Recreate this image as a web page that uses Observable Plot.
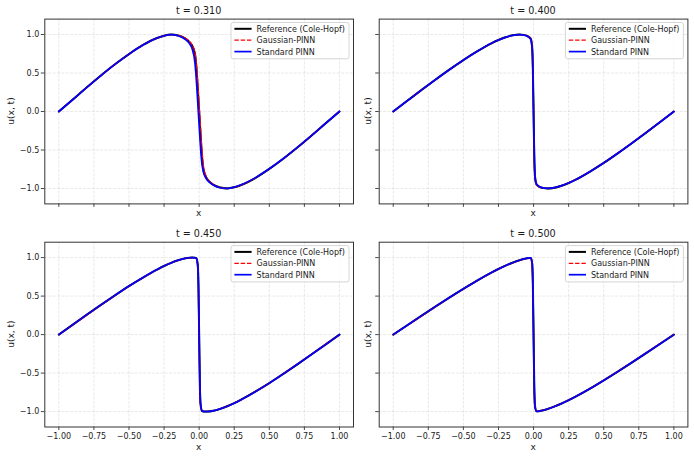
<!DOCTYPE html>
<html>
<head>
<meta charset="utf-8">
<script src="https://cdn.jsdelivr.net/npm/d3@7"></script>
<script src="https://cdn.jsdelivr.net/npm/@observablehq/plot@0.6"></script>
<style>
html, body { margin: 0; padding: 0; background: #fff; }
#fig { position: relative; width: 694px; height: 456px; overflow: hidden; background: #fff; }
#fig svg { position: absolute; max-width: none; }
</style>
</head>
<body>
<div id="fig"></div>
<script>
// ---------- data ----------
const titles = ["t = 0.310", "t = 0.400", "t = 0.450", "t = 0.500"];
const legendLabels = ["Reference (Cole-Hopf)", "Gaussian-PINN", "Standard PINN"];
const xTicks = [-1, -0.75, -0.5, -0.25, 0, 0.25, 0.5, 0.75, 1];
const yTicks = [-1, -0.5, 0, 0.5, 1];

const xs = [-1, -0.9, -0.8, -0.7, -0.6, -0.5, -0.4, -0.3, -0.25, -0.2, -0.15, -0.1, -0.07, -0.05, -0.03, -0.02, -0.01, -0.005, 0,
  0.005, 0.01, 0.02, 0.03, 0.05, 0.07, 0.1, 0.15, 0.2, 0.25, 0.3, 0.4, 0.5, 0.6, 0.7, 0.8, 0.9, 1];

const ref031 = [0, 0.157, 0.315, 0.468, 0.613, 0.746, 0.864, 0.955, 0.985, 0.999, 0.988, 0.95, 0.905, 0.855, 0.75, 0.58, 0.30, 0.15, 0,
  -0.15, -0.30, -0.58, -0.75, -0.855, -0.905, -0.95, -0.988, -0.999, -0.985, -0.955, -0.864, -0.746, -0.613, -0.468, -0.315, -0.157, 0];
const gp031 = [0, 0.156, 0.314, 0.467, 0.612, 0.745, 0.863, 0.954, 0.984, 0.998, 0.989, 0.953, 0.91, 0.863, 0.766, 0.631, 0.384, 0.24, 0.09,
  -0.06, -0.21, -0.496, -0.699, -0.839, -0.898, -0.946, -0.987, -0.998, -0.985, -0.955, -0.863, -0.745, -0.612, -0.467, -0.314, -0.156, 0];
const sp031 = [0, 0.156, 0.314, 0.467, 0.612, 0.745, 0.863, 0.954, 0.984, 0.998, 0.984, 0.938, 0.885, 0.815, 0.635, 0.41, 0.12, -0.03, -0.18,
  -0.328, -0.468, -0.682, -0.782, -0.87, -0.914, -0.955, -0.99, -0.999, -0.983, -0.951, -0.862, -0.744, -0.611, -0.466, -0.314, -0.156, 0];

const ref040 = [0, 0.139, 0.277, 0.412, 0.543, 0.668, 0.783, 0.886, 0.928, 0.964, 0.989, 1.0, 0.995, 0.985, 0.963, 0.945, 0.835, 0.57, 0,
  -0.57, -0.835, -0.945, -0.963, -0.985, -0.995, -1.0, -0.989, -0.964, -0.928, -0.886, -0.783, -0.668, -0.543, -0.412, -0.277, -0.139, 0];
const gp040 = [0, 0.138, 0.276, 0.411, 0.542, 0.667, 0.782, 0.885, 0.927, 0.963, 0.988, 0.998, 0.994, 0.986, 0.966, 0.95, 0.855, 0.61, 0,
  -0.61, -0.855, -0.95, -0.966, -0.986, -0.994, -0.998, -0.988, -0.963, -0.927, -0.885, -0.782, -0.667, -0.542, -0.411, -0.276, -0.138, 0];
const sp040 = [0, 0.139, 0.277, 0.412, 0.543, 0.668, 0.783, 0.886, 0.928, 0.963, 0.988, 0.998, 0.993, 0.982, 0.958, 0.938, 0.82, 0.55, 0,
  -0.55, -0.82, -0.938, -0.958, -0.982, -0.993, -0.998, -0.988, -0.963, -0.928, -0.886, -0.783, -0.668, -0.543, -0.412, -0.277, -0.139, 0];

const ref045 = [0, 0.130, 0.259, 0.386, 0.510, 0.630, 0.741, 0.844, 0.891, 0.931, 0.965, 0.990, 0.998, 1.0, 0.998, 0.991, 0.904, 0.64, 0,
  -0.64, -0.904, -0.991, -0.998, -1.0, -0.998, -0.990, -0.965, -0.931, -0.891, -0.844, -0.741, -0.630, -0.510, -0.386, -0.259, -0.130, 0];
const gp045 = [0, 0.126, 0.254, 0.382, 0.507, 0.628, 0.740, 0.843, 0.890, 0.930, 0.964, 0.989, 0.997, 0.998, 0.995, 0.988, 0.91, 0.66, 0,
  -0.66, -0.91, -0.988, -0.995, -0.998, -0.997, -0.989, -0.964, -0.930, -0.890, -0.843, -0.740, -0.628, -0.507, -0.382, -0.254, -0.126, 0];
const sp045 = [0, 0.130, 0.259, 0.386, 0.510, 0.630, 0.741, 0.844, 0.891, 0.931, 0.965, 0.990, 0.998, 1.0, 0.997, 0.989, 0.895, 0.62, 0,
  -0.62, -0.895, -0.989, -0.997, -1.0, -0.998, -0.990, -0.965, -0.931, -0.891, -0.844, -0.741, -0.630, -0.510, -0.386, -0.259, -0.130, 0];

const ref050 = [0, 0.122, 0.243, 0.363, 0.481, 0.595, 0.704, 0.805, 0.852, 0.895, 0.933, 0.966, 0.982, 0.990, 0.996, 0.994, 0.917, 0.656, 0,
  -0.656, -0.917, -0.994, -0.996, -0.990, -0.982, -0.966, -0.933, -0.895, -0.852, -0.805, -0.704, -0.595, -0.481, -0.363, -0.243, -0.122, 0];
const gp050 = [0, 0.118, 0.238, 0.359, 0.478, 0.593, 0.702, 0.803, 0.851, 0.894, 0.932, 0.965, 0.980, 0.987, 0.990, 0.985, 0.90, 0.64, 0,
  -0.64, -0.90, -0.985, -0.990, -0.987, -0.980, -0.965, -0.932, -0.894, -0.851, -0.803, -0.702, -0.593, -0.478, -0.359, -0.238, -0.118, 0];
const sp050 = [0, 0.122, 0.243, 0.363, 0.481, 0.595, 0.704, 0.805, 0.852, 0.895, 0.933, 0.966, 0.982, 0.991, 0.997, 0.996, 0.93, 0.67, 0,
  -0.67, -0.93, -0.996, -0.997, -0.991, -0.982, -0.966, -0.933, -0.895, -0.852, -0.805, -0.704, -0.595, -0.481, -0.363, -0.243, -0.122, 0];

// ---------- styling / layout ----------
const FONT = "'DejaVu Sans', 'Liberation Sans', sans-serif";
const series = [
  {key: "ref", stroke: "#000000", width: 2.0, dash: null},
  {key: "gp",  stroke: "#ff0000", width: 1.3, dash: "4.4,1.9"},
  {key: "sp",  stroke: "#0000ff", width: 1.7, dash: null}
];

const panels = [
  {title: titles[0], ref: ref031, gp: gp031, sp: sp031, left: 0,   top: 0,   w: 362, h: 225, ml: 44.3, mr: 9,   mt: 18.6, mb: 21.6, xl: false, yl: true,  xlabBelow: 12.6, ylabX: 14.3},
  {title: titles[1], ref: ref040, gp: gp040, sp: sp040, left: 362, top: 0,   w: 332, h: 225, ml: 16.7, mr: 6.6, mt: 18.6, mb: 21.6, xl: false, yl: false, xlabBelow: 12.6, ylabX: 9},
  {title: titles[2], ref: ref045, gp: gp045, sp: sp045, left: 0,   top: 225, w: 362, h: 231, ml: 44.3, mr: 9,   mt: 16.7, mb: 29.5, xl: true,  yl: true,  xlabBelow: 23,   ylabX: 14.3},
  {title: titles[3], ref: ref050, gp: gp050, sp: sp050, left: 362, top: 225, w: 332, h: 231, ml: 16.7, mr: 6.6, mt: 16.7, mb: 29.5, xl: true,  yl: false, xlabBelow: 23,   ylabX: 9}
];

const fmtX = d3.format(".2f");
const fmtY = d3.format(".1f");
const fig = document.getElementById("fig");

for (const p of panels) {
  const data = xs.map((x, i) => ({x, ref: p.ref[i], gp: p.gp[i], sp: p.sp[i]}));
  const svg = Plot.plot({
    width: p.w,
    height: p.h,
    marginLeft: p.ml, marginRight: p.mr, marginTop: p.mt, marginBottom: p.mb,
    style: {fontFamily: FONT, fontSize: "8px", color: "#1a1a1a", background: "transparent", overflow: "visible"},
    x: {domain: [-1.1, 1.1]},
    y: {domain: [-1.2, 1.2]},
    marks: [
      Plot.gridX({ticks: xTicks, stroke: "#b0b0b0", strokeOpacity: 0.35, strokeWidth: 0.8, strokeDasharray: "3,1.3"}),
      Plot.gridY({ticks: yTicks, stroke: "#b0b0b0", strokeOpacity: 0.35, strokeWidth: 0.8, strokeDasharray: "3,1.3"}),
      ...series.map(s => Plot.line(data, {
        x: "x", y: s.key, stroke: s.stroke, strokeWidth: s.width,
        strokeDasharray: s.dash || undefined, curve: "monotone-x"
      })),
      Plot.axisX({ticks: xTicks, tickSize: 3.5, tickPadding: 2.5, strokeWidth: 0.8, label: null,
        tickFormat: p.xl ? fmtX : () => "", fontSize: 8}),
      Plot.axisY({ticks: yTicks, tickSize: 3.5, tickPadding: 2, strokeWidth: 0.8, label: null,
        tickFormat: p.yl ? fmtY : () => "", fontSize: 8}),
      Plot.frame({stroke: "#333333", strokeWidth: 1})
    ]
  });
  svg.style.left = p.left + "px";
  svg.style.top = p.top + "px";
  fig.appendChild(svg);

  // decorations: title, axis labels, legend
  const fw = p.w - p.ml - p.mr, fh = p.h - p.mt - p.mb;
  const g = d3.select(svg).append("g").attr("font-family", FONT).attr("fill", "#1a1a1a");
  g.append("text").attr("x", p.ml + fw / 2).attr("y", p.mt - 5)
    .attr("text-anchor", "middle").attr("font-size", 9.6).text(p.title);
  g.append("text").attr("x", p.ml + fw / 2).attr("y", p.mt + fh + p.xlabBelow)
    .attr("text-anchor", "middle").attr("font-size", 9).text("x");
  g.append("text").attr("transform", `translate(${p.ylabX},${p.mt + fh / 2}) rotate(-90)`)
    .attr("text-anchor", "middle").attr("font-size", 9).text("u(x, t)");

  const bw = 118, bh = 36.3;
  const bx = p.ml + fw - 4 - bw, by = p.mt + 3.9;
  const lg = g.append("g");
  lg.append("rect").attr("x", bx).attr("y", by).attr("width", bw).attr("height", bh)
    .attr("rx", 2).attr("fill", "#fff").attr("fill-opacity", 0.8)
    .attr("stroke", "#cccccc").attr("stroke-width", 0.8);
  series.forEach((s, i) => {
    const cy = by + 6.3 + i * 11.4;
    lg.append("line").attr("x1", bx + 3.4).attr("x2", bx + 20.6).attr("y1", cy).attr("y2", cy)
      .attr("stroke", s.stroke).attr("stroke-width", s.width)
      .attr("stroke-dasharray", s.dash);
    lg.append("text").attr("x", bx + 25.6).attr("y", cy + 2.9).attr("text-anchor", "start")
      .attr("font-size", 8).text(legendLabels[i]);
  });
}
</script>
</body>
</html>
